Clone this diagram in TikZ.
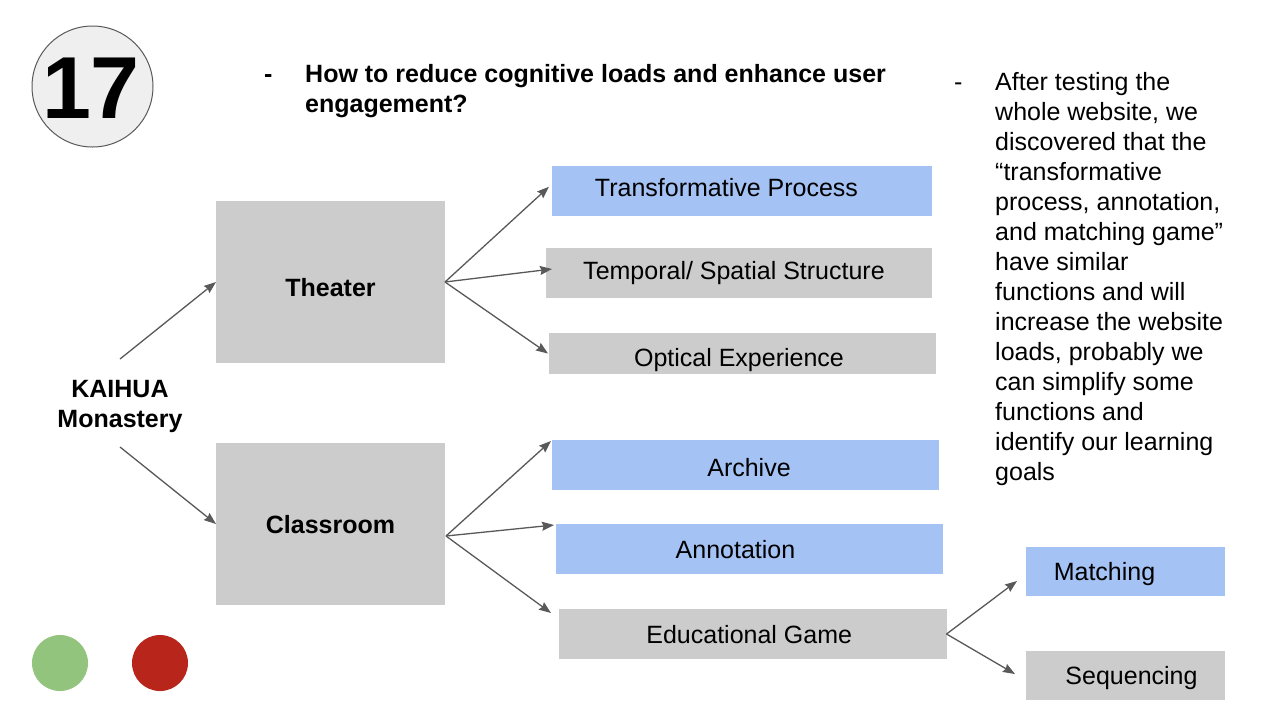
\documentclass[tikz,border=0pt]{standalone}
\usepackage{fontspec}
\setmainfont{Liberation Sans}
\usetikzlibrary{arrows.meta,calc}
\definecolor{boxgray}{HTML}{CCCCCC}
\definecolor{boxblue}{HTML}{A4C2F4}
\definecolor{arrgray}{HTML}{595959}
\definecolor{dotgreen}{HTML}{93C47D}
\definecolor{dotred}{HTML}{B8261B}
\definecolor{numfill}{HTML}{EFEFEF}
\begin{document}
\begin{tikzpicture}[x=1pt,y=-1pt,
  font=\fontsize{25}{30}\selectfont,
  box/.style={rectangle, inner sep=0pt, outer sep=0pt},
  gbox/.style={box, fill=boxgray},
  bbox/.style={box, fill=boxblue},
  txt/.style={inner sep=0pt, text height=18pt, text depth=0pt},
  btxt/.style={txt, font=\fontsize{25}{30}\selectfont\bfseries},
  plain/.style={anchor=base west, inner sep=0pt},
  arr/.style={draw=arrgray, line width=1.3pt, -{Stealth[length=12pt,width=9pt,inset=1.5pt]}},
  dot/.style={circle, inner sep=0pt, minimum size=56pt},
]
\fill[white] (0,0) rectangle (1276,716);
\useasboundingbox (0,0) rectangle (1276,716);

% number badge
\node[circle, draw=arrgray, line width=1pt, fill=numfill, minimum size=121pt, inner sep=0pt] (num) at (92.5,86.5) {};
\node[inner sep=0pt, text height=63pt, text depth=0pt, font=\fontsize{88}{88}\selectfont\bfseries] (numtxt) at (91,86.5) {17};

% header question
\node[plain, font=\fontsize{25}{30}\selectfont\bfseries] (dash1) at (264,82) {-};
\node[plain, font=\fontsize{25}{30}\selectfont\bfseries] (q) at (305,82)
  {\parbox[t]{640pt}{\raggedright How to reduce cognitive loads and enhance user\\engagement?}};

% right note
\node[plain] (dash2) at (954,90) {-};
\node[plain] (note) at (995,90)
  {\parbox[t]{275pt}{\raggedright After testing the\\whole website, we\\discovered that the\\“transformative\\process, annotation,\\and matching game”\\have similar\\functions and will\\increase the website\\loads, probably we\\can simplify some\\functions and\\identify our learning\\goals}};

% root
\node[anchor=base, inner sep=0pt, font=\fontsize{25}{30}\selectfont\bfseries] (kai) at (120,397)
  {\parbox[t]{200pt}{\centering KAIHUA\\Monastery}};

% main boxes
\node[gbox, minimum width=229pt, minimum height=162pt,
  label={[btxt,yshift=-5.5pt]center:Theater}] (thr) at (330.5,282) {};
\node[gbox, minimum width=229pt, minimum height=162pt,
  label={[btxt]center:Classroom}] (cls) at (330.5,524) {};

% sub boxes
\node[bbox, minimum width=380pt, minimum height=49.5pt,
  label={[txt,xshift=-15.5pt,yshift=3.75pt]center:Transformative Process}] (tp) at (742,190.75) {};
\node[gbox, minimum width=386pt, minimum height=50pt,
  label={[txt,xshift=-5pt,yshift=3pt]center:Temporal/ Spatial Structure}] (tss) at (739,273) {};
\node[gbox, minimum width=387pt, minimum height=41pt,
  label={[txt,xshift=-3.5pt,yshift=-3.5pt]center:Optical Experience}] (oe) at (742.5,353.5) {};
\node[bbox, minimum width=387pt, minimum height=50pt,
  label={[txt,xshift=3.5pt,yshift=-2.5pt]center:Archive}] (arc) at (745.5,465) {};
\node[bbox, minimum width=387pt, minimum height=50pt,
  label={[txt,xshift=-14pt]center:Annotation}] (ann) at (749.5,549) {};
\node[gbox, minimum width=387.5pt, minimum height=50pt,
  label={[txt,xshift=-3.5pt]center:Educational Game}] (edu) at (752.75,634) {};
\node[bbox, minimum width=199pt, minimum height=49pt,
  label={[txt,xshift=-21pt]center:Matching}] (mat) at (1125.5,571.5) {};
\node[gbox, minimum width=199pt, minimum height=49pt,
  label={[txt,xshift=6pt]center:Sequencing}] (seq) at (1125.5,675.5) {};

% dots
\node[dot, fill=dotgreen] (gdot) at (60,663) {};
\node[dot, fill=dotred] (rdot) at (160,663) {};

% connectors
\draw[arr] ($(kai.base)+(0,-38)$) -- (thr.west);
\draw[arr] ($(kai.base)+(0,50)$) -- (cls.west);
\draw[arr] (thr.east) -- ($(tp.west)+(-3,-4)$);
\draw[arr] (thr.east) -- ($(tss.west)+(6,-4)$);
\draw[arr] (thr.east) -- ($(oe.west)+(-1,0)$);
\draw[arr] ($(cls.east)+(1,12)$) -- ($(arc.north west)+(-1,1)$);
\draw[arr] ($(cls.east)+(1,12)$) -- ($(ann.north west)+(-2,1)$);
\draw[arr] ($(cls.east)+(1,12)$) -- ($(edu.north west)+(-8,4)$);
\draw[arr] (edu.east) -- ($(mat.west)+(-9,9.5)$);
\draw[arr] (edu.east) -- ($(seq.west)+(-11,-1.5)$);
\end{tikzpicture}
\end{document}
